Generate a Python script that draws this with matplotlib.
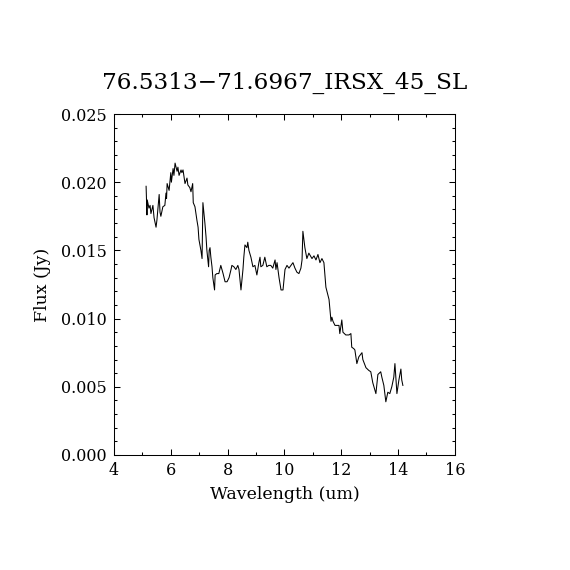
import matplotlib
matplotlib.use("Agg")
import matplotlib.pyplot as plt
from matplotlib.ticker import MultipleLocator

title = "76.5313\u221271.6967_IRSX_45_SL"

wave = [5.13, 5.16, 5.17, 5.23, 5.27, 5.30, 5.37, 5.41, 5.44, 5.48,
        5.51, 5.57, 5.59, 5.62, 5.65, 5.72, 5.79, 5.83, 5.85, 5.87,
        5.94, 6.00, 6.02, 6.08, 6.11, 6.15, 6.22, 6.25, 6.29, 6.36,
        6.39, 6.43, 6.50, 6.57, 6.60, 6.67, 6.71, 6.77, 6.79, 6.85,
        6.92, 6.96, 6.99, 7.06, 7.10, 7.13, 7.20, 7.24, 7.27, 7.33,
        7.35, 7.38, 7.41, 7.45, 7.48, 7.54, 7.56, 7.62, 7.69, 7.76,
        7.84, 7.91, 7.98, 8.05, 8.12, 8.15, 8.22, 8.29, 8.36, 8.40,
        8.47, 8.54, 8.57, 8.61, 8.68, 8.71, 8.75, 8.82, 8.89, 8.96,
        9.03, 9.10, 9.14, 9.17, 9.24, 9.31, 9.38, 9.45, 9.52, 9.59,
        9.67, 9.70, 9.74, 9.81, 9.88, 9.95, 10.02, 10.09, 10.16, 10.23,
        10.30, 10.37, 10.44, 10.51, 10.58, 10.62, 10.65, 10.72, 10.79, 10.86,
        10.97, 11.04, 11.11, 11.18, 11.25, 11.32, 11.39, 11.46, 11.57, 11.64,
        11.67, 11.71, 11.78, 11.85, 11.92, 11.95, 12.02, 12.06, 12.16, 12.27,
        12.34, 12.37, 12.44, 12.48, 12.55, 12.62, 12.73, 12.76, 12.87, 12.97,
        13.04, 13.11, 13.22, 13.29, 13.39, 13.43, 13.50, 13.57, 13.64, 13.71,
        13.78, 13.85, 13.89, 13.96, 14.03, 14.10, 14.13, 14.17]

flux = [0.0197, 0.0176, 0.0187, 0.0181, 0.0183, 0.0177, 0.0183, 0.0174, 0.0171, 0.0167,
        0.0172, 0.0186, 0.0191, 0.0178, 0.0175, 0.0182, 0.0183, 0.0192, 0.0188, 0.0199,
        0.0194, 0.0207, 0.0200, 0.0210, 0.0205, 0.0214, 0.0208, 0.0211, 0.0205, 0.0209,
        0.0207, 0.0209, 0.0199, 0.0203, 0.0198, 0.0196, 0.0193, 0.0199, 0.0185, 0.0182,
        0.0172, 0.0167, 0.0158, 0.0150, 0.0144, 0.0185, 0.0170, 0.0160, 0.0150, 0.0138,
        0.0150, 0.0152, 0.0145, 0.0138, 0.0130, 0.0121, 0.0132, 0.0133, 0.0133, 0.0139,
        0.0133, 0.0127, 0.0127, 0.0130, 0.0136, 0.0139, 0.0138, 0.0136, 0.0139, 0.0136,
        0.0121, 0.0136, 0.0145, 0.0154, 0.0152, 0.0156, 0.0150, 0.0145, 0.0138, 0.0139,
        0.0132, 0.0141, 0.0145, 0.0138, 0.0139, 0.0145, 0.0138, 0.0139, 0.0139, 0.0137,
        0.0143, 0.0136, 0.0141, 0.0130, 0.0121, 0.0121, 0.0136, 0.0139, 0.0137, 0.0139,
        0.0141, 0.0137, 0.0134, 0.0133, 0.0137, 0.0143, 0.0164, 0.0152, 0.0144, 0.0148,
        0.0144, 0.0146, 0.0143, 0.0147, 0.0141, 0.0144, 0.0141, 0.0123, 0.0114, 0.0098,
        0.0101, 0.0098, 0.0095, 0.0095, 0.0095, 0.0089, 0.0099, 0.0090, 0.0088, 0.0088,
        0.0089, 0.0079, 0.0078, 0.0077, 0.0067, 0.0072, 0.0075, 0.0070, 0.0064, 0.0062,
        0.0061, 0.0053, 0.0045, 0.0059, 0.0061, 0.0057, 0.0051, 0.0039, 0.0046, 0.0045,
        0.0050, 0.0057, 0.0067, 0.0045, 0.0055, 0.0063, 0.0055, 0.0051]

plt.rcParams['font.family'] = ['DejaVu Serif']

fig = plt.figure(figsize=(5.7, 5.7), dpi=100)
ax = fig.add_axes([0.2, 0.2018, 0.598, 0.5982])
ax.plot(wave, flux, color='black', linewidth=0.75)

ax.set_xlim(4, 16)
ax.set_ylim(0, 0.025)
ax.xaxis.set_major_locator(MultipleLocator(2))
ax.xaxis.set_minor_locator(MultipleLocator(1))
ax.yaxis.set_major_locator(MultipleLocator(0.005))
ax.yaxis.set_minor_locator(MultipleLocator(0.001))
ax.yaxis.set_major_formatter(plt.FormatStrFormatter('%.3f'))
ax.tick_params(which='both', direction='in', top=True, right=True, labelsize=11.5, width=0.75)
ax.tick_params(which='major', length=4.5, pad=5)
ax.tick_params(which='minor', length=2.2)
for s in ax.spines.values():
    s.set_linewidth(0.75)

ax.set_xlabel('Wavelength (um)', fontsize=12.5, labelpad=5)
ax.set_ylabel('Flux (Jy)', fontsize=12.5, labelpad=7)
ax.set_title(title, fontsize=16.7, pad=18)

plt.savefig("out.png", dpi=100)
